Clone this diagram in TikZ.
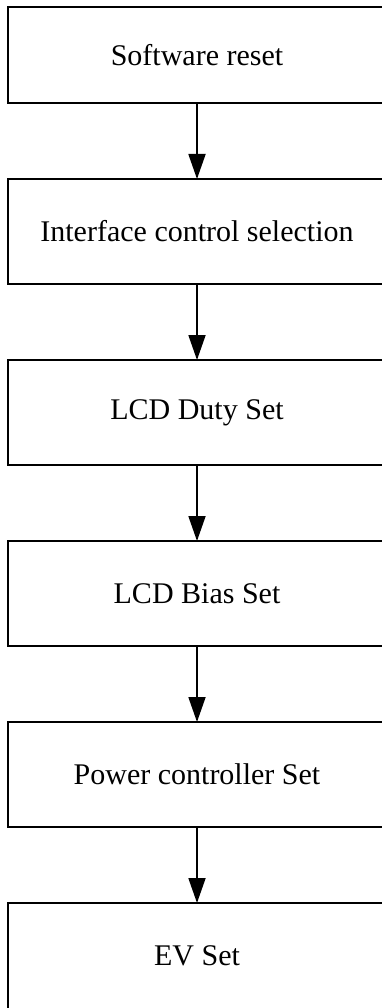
\documentclass[tikz,border=0pt]{standalone}
\usepackage{fontspec}
\setmainfont{Liberation Serif}
\usetikzlibrary{positioning,arrows.meta}
\tikzset{
  stepbox/.style={draw, line width=1.8pt, minimum width=378pt,
    minimum height=105pt, inner sep=0pt, outer sep=0pt,
    font=\fontsize{30}{36}\selectfont},
  flow/.style={-{Triangle[length=25pt,width=17pt]}, line width=1.8pt}
}
\begin{document}
\begin{tikzpicture}[x=1pt, y=1pt]
    \useasboundingbox (0, 0) rectangle (381, -1008);
    \node [stepbox, minimum height=96pt] (reset) at (197, -55) {Software reset};
    \node [stepbox, below=76pt of reset] (iface) {Interface control selection};
    \node [stepbox, below=76pt of iface] (duty) {LCD Duty Set};
    \node [stepbox, below=76pt of duty] (bias) {LCD Bias Set};
    \node [stepbox, below=76pt of bias] (power) {Power controller Set};
    % last box runs past the lower edge
    \node [stepbox, minimum height=112pt, text depth=7pt, below=76pt of power] (ev) {EV Set};
    \draw [flow] (reset) -- (iface);
    \draw [flow] (iface) -- (duty);
    \draw [flow] (duty) -- (bias);
    \draw [flow] (bias) -- (power);
    \draw [flow] (power) -- (ev);
\end{tikzpicture}
\end{document}
